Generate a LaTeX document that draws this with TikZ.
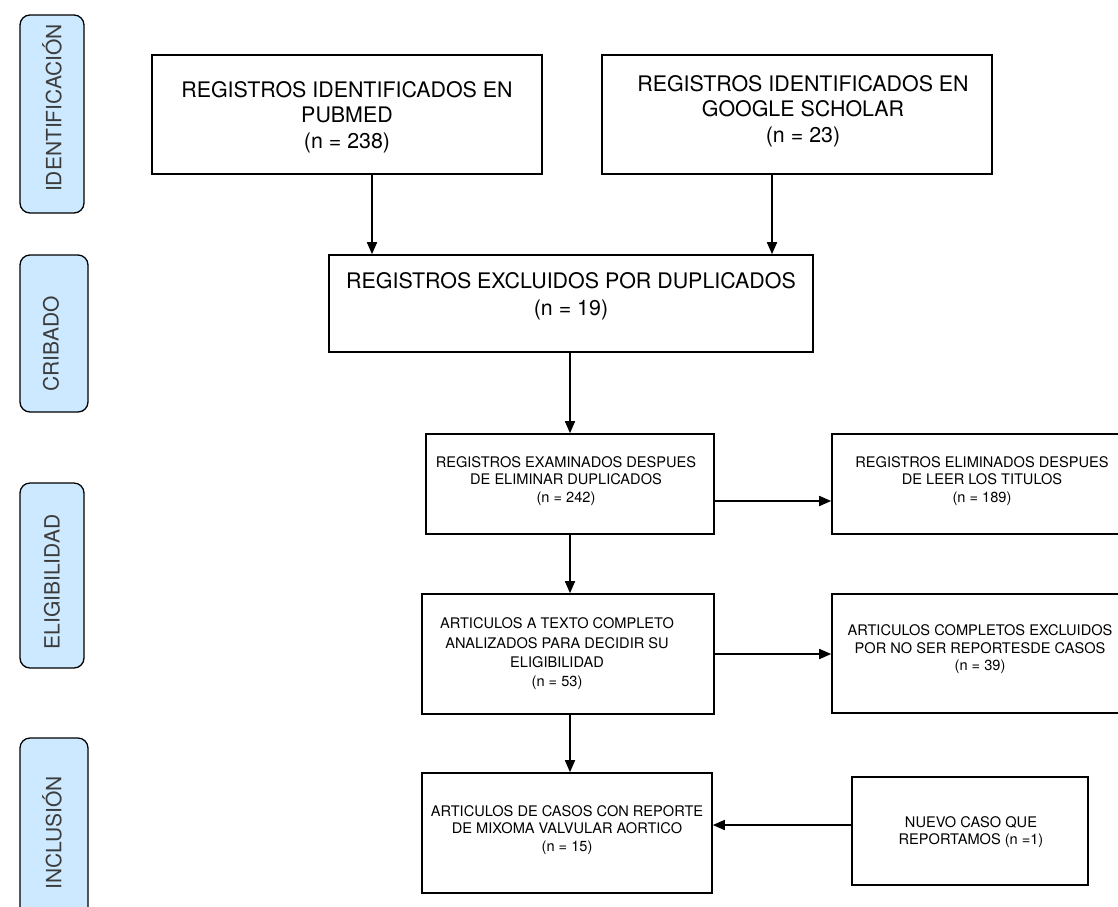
\documentclass[tikz,border=0pt]{standalone}
\usepackage{fontspec}
\setmainfont{TeX Gyre Heros}
\usetikzlibrary{arrows.meta}
\definecolor{sidefill}{RGB}{204,233,255}
\definecolor{sidetext}{RGB}{60,60,60}
\begin{document}
\begin{tikzpicture}[x=1pt,y=-1pt,
  box/.style={draw, line width=1.6pt, fill=white, inner sep=0pt},
  side/.style={draw, line width=1.3pt, fill=sidefill, rounded corners=10pt},
  sidelabel/.style={rotate=90, text=sidetext, font=\fontsize{21}{25}\selectfont, inner sep=0pt},
  big/.style={font=\fontsize{21.4}{25.5}\selectfont, align=center, inner sep=0pt},
  small/.style={font=\fontsize{14.6}{17.5}\selectfont, align=center, inner sep=0pt},
  arr/.style={-{Triangle[length=12pt,width=10pt]}, line width=1.6pt}]
\useasboundingbox (0,0) rectangle (1118,906);
\fill[white] (0,0) rectangle (1118,906);

% side phase labels
\draw[side] (20,15) rectangle (84,213);
\draw[side] (20,255) rectangle (88,412);
\draw[side] (20,483) rectangle (84,668);
\draw[side] (20,738) rectangle (88,925);
\node[sidelabel] (lid) at (52,108) {IDENTIFICACIÓN};
\node[sidelabel] (lcr) at (51,344) {CRIBADO};
\node[sidelabel] (lel) at (52,582) {ELIGIBILIDAD};
\node[sidelabel] (lin) at (52,833) {INCLUSIÓN};

% boxes
\node[box, minimum width=390pt, minimum height=119pt] (pub) at (347,114.5) {};
\node[box, minimum width=390pt, minimum height=119pt] (goo) at (797,114.5) {};
\node[box, minimum width=484pt, minimum height=97pt] (dup) at (571,303.5) {};
\node[box, minimum width=288pt, minimum height=100pt] (exa) at (570,484) {};
\node[box, minimum width=298pt, minimum height=100pt] (eli) at (981,484) {};
\node[box, minimum width=292pt, minimum height=120pt] (art) at (568,654) {};
\node[box, minimum width=298pt, minimum height=119pt] (exc) at (981,653.5) {};
\node[box, minimum width=290pt, minimum height=120pt] (fin) at (567,833) {};
\node[box, minimum width=236pt, minimum height=108pt] (nue) at (970,831) {};

% texts
\node[big] (tpub) at (347,117) {REGISTROS IDENTIFICADOS EN\\PUBMED\\(n = 238)};
\node[big] (tgoo) at (803,111) {REGISTROS IDENTIFICADOS EN\\GOOGLE SCHOLAR\\(n = 23)};
\node[big, font=\fontsize{21.4}{27}\selectfont] (tdup) at (571,296.5) {REGISTROS EXCLUIDOS POR DUPLICADOS\\(n = 19)};
\node[small] (texa) at (566,481) {REGISTROS EXAMINADOS DESPUES\\DE ELIMINAR DUPLICADOS\\(n = 242)};
\node[small] (teli) at (982,481) {REGISTROS ELIMINADOS DESPUES\\DE LEER LOS TITULOS\\(n = 189)};
\node[small, font=\fontsize{14.6}{19.3}\selectfont] (tart) at (557,654) {ARTICULOS A TEXTO COMPLETO\\ANALIZADOS PARA DECIDIR SU\\ELIGIBILIDAD\\(n = 53)};
\node[small] (texc) at (980,649.5) {ARTICULOS COMPLETOS EXCLUIDOS\\POR NO SER REPORTESDE CASOS\\(n = 39)};
\node[small] (tfin) at (567,830) {ARTICULOS DE CASOS CON REPORTE\\DE MIXOMA VALVULAR AORTICO\\(n = 15)};
\node[small] (tnue) at (971,832) {NUEVO CASO QUE\\REPORTAMOS (n =1)};

% connectors
\draw[arr] ([xshift=25pt]pub.south) -- ([xshift=25pt]pub.south |- dup.north);
\draw[arr] ([xshift=-25pt]goo.south) -- ([xshift=-25pt]goo.south |- dup.north);
\draw[arr] ([xshift=-1pt]dup.south) -- ([xshift=-1pt]dup.south |- exa.north);
\draw[arr] ([yshift=-17pt]exa.east) -- ([yshift=-17pt]exa.east -| eli.west);
\draw[arr] (exa.south) -- (exa.south |- art.north);
\draw[arr] (art.east) -- (art.east -| exc.west);
\draw[arr] ([xshift=2pt]art.south) -- ([xshift=2pt]art.south |- fin.north);
\draw[arr] ([yshift=6pt]nue.west) -- ([yshift=6pt]nue.west -| fin.east);
\end{tikzpicture}
\end{document}
